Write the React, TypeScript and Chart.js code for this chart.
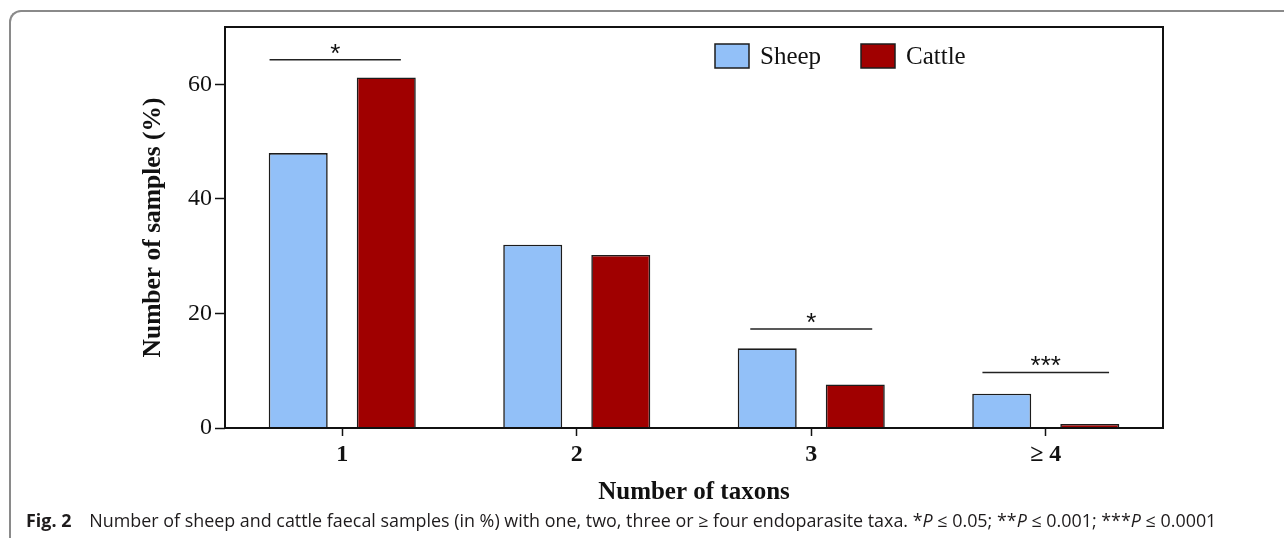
import React, { useEffect, useRef } from "react";
import { Chart, registerables } from "chart.js";

Chart.register(...registerables);

// Share of samples (%) by number of endoparasite taxa found
const categories = ["1", "2", "3", "≥ 4"];
const seriesLabels = ["Sheep", "Cattle"];
const sheepValues = [48.0, 32.0, 13.9, 6.0];
const cattleValues = [61.2, 30.2, 7.6, 0.7];
const yTickValues = [0, 20, 40, 60];
const yMax = 70;

// Significance bars: category index, height (%), reach left/right of the
// category centre (in category widths), and the star label.
const sigCategory = [0, 2, 3];
const sigLevel = [64.3, 17.3, 9.7];
const sigFrom = [-0.31, -0.26, -0.27];
const sigTo = [0.25, 0.26, 0.27];
const sigStars = ["*", "*", "***"];

const sheepColor = "#92c0f8";
const cattleColor = "#a00000";
const edgeColor = "#1c1c1c";

const serif = "'Liberation Serif', 'Times New Roman', serif";

const framePlugin = {
  id: "frame",
  afterDatasetsDraw(chart: any) {
    const { ctx, chartArea: a } = chart;
    ctx.save();
    ctx.strokeStyle = "#111";
    ctx.lineWidth = 2;
    ctx.strokeRect(a.left, a.top, a.right - a.left, a.bottom - a.top);
    ctx.restore();
  },
};

const significancePlugin = {
  id: "significance",
  afterDatasetsDraw(chart: any) {
    const { ctx } = chart;
    const x = chart.scales.x;
    const y = chart.scales.y;
    const step = x.getPixelForValue(1) - x.getPixelForValue(0);
    ctx.save();
    ctx.strokeStyle = "#222";
    ctx.lineWidth = 1.5;
    ctx.fillStyle = "#111";
    ctx.font = "26px 'Liberation Sans', Arial, sans-serif";
    ctx.textAlign = "center";
    ctx.textBaseline = "alphabetic";
    sigCategory.forEach((c, i) => {
      const cx = x.getPixelForValue(c);
      const py = y.getPixelForValue(sigLevel[i]);
      const x0 = cx + sigFrom[i] * step;
      const x1 = cx + sigTo[i] * step;
      ctx.beginPath();
      ctx.moveTo(x0, py);
      ctx.lineTo(x1, py);
      ctx.stroke();
      ctx.fillText(sigStars[i], (x0 + x1) / 2, py + 2);
    });
    ctx.restore();
  },
};

const boxLegendPlugin = {
  id: "boxLegend",
  afterDraw(chart: any) {
    const { ctx, chartArea: a } = chart;
    const boxW = 34;
    const boxH = 24;
    const cy = a.top + 29;
    let left = a.left + 490;
    ctx.save();
    ctx.font = `25px ${serif}`;
    ctx.textBaseline = "middle";
    ctx.textAlign = "left";
    chart.data.datasets.forEach((ds: any) => {
      ctx.fillStyle = ds.backgroundColor;
      ctx.fillRect(left, cy - boxH / 2, boxW, boxH);
      ctx.strokeStyle = edgeColor;
      ctx.lineWidth = 1.5;
      ctx.strokeRect(left, cy - boxH / 2, boxW, boxH);
      ctx.fillStyle = "#111";
      ctx.fillText(ds.label, left + boxW + 11, cy + 1);
      left += 146;
    });
    ctx.restore();
  },
};

export default function App() {
  const canvasRef = useRef<HTMLCanvasElement>(null);

  useEffect(() => {
    const canvas = canvasRef.current;
    if (!canvas) return;
    const chart = new Chart(canvas, {
      type: "bar",
      data: {
        labels: categories,
        datasets: [
          {
            label: seriesLabels[0],
            data: sheepValues,
            backgroundColor: sheepColor,
            borderColor: edgeColor,
            borderWidth: 1.6,
            categoryPercentage: 0.751,
            barPercentage: 0.67,
          },
          {
            label: seriesLabels[1],
            data: cattleValues,
            backgroundColor: cattleColor,
            borderColor: edgeColor,
            borderWidth: 1.6,
            categoryPercentage: 0.751,
            barPercentage: 0.67,
          },
        ],
      },
      options: {
        animation: false,
        responsive: true,
        maintainAspectRatio: false,
        layout: { padding: { top: 27, right: 121, left: 0, bottom: 0 } },
        plugins: {
          legend: { display: false },
          tooltip: { enabled: false },
        },
        scales: {
          x: {
            offset: true,
            border: { display: false },
            grid: {
              offset: false,
              display: true,
              drawOnChartArea: false,
              drawTicks: true,
              tickLength: 8,
              tickWidth: 1.5,
              color: "#111",
              tickColor: "#111",
            },
            ticks: {
              color: "#111",
              padding: 4,
              font: { family: serif, size: 24, weight: "bold" },
            },
            title: {
              display: true,
              text: "Number of taxons",
              color: "#111",
              font: { family: serif, size: 25, weight: "bold" },
              padding: { top: 0, bottom: 30 },
            },
            afterFit(scale: any) {
              scale.height = 110;
            },
          },
          y: {
            min: 0,
            max: yMax,
            border: { display: false },
            grid: {
              display: true,
              drawOnChartArea: false,
              drawTicks: true,
              tickLength: 10,
              tickWidth: 1.5,
              color: "#111",
              tickColor: "#111",
            },
            ticks: {
              color: "#111",
              padding: 3,
              font: { family: serif, size: 24 },
            },
            afterBuildTicks(scale: any) {
              scale.ticks = yTickValues.map((v) => ({ value: v }));
            },
            title: {
              display: true,
              text: "Number of samples (%)",
              color: "#111",
              font: { family: serif, size: 25.5, weight: "bold" },
              padding: { top: 138, bottom: 0 },
            },
            afterFit(scale: any) {
              scale.width = 225;
            },
          },
        },
      },
      plugins: [significancePlugin, framePlugin, boxLegendPlugin],
    } as any);
    return () => chart.destroy();
  }, []);

  return (
    <div
      style={{
        position: "fixed",
        left: 0,
        top: 0,
        width: 1284,
        height: 538,
        background: "#fff",
        overflow: "hidden",
      }}
    >
      <div
        style={{
          position: "absolute",
          left: 9,
          top: 10,
          width: 1400,
          height: 535,
          borderTop: "2px solid #8a8a8a",
          borderLeft: "2px solid #8a8a8a",
          borderBottom: "2px solid #8a8a8a",
          borderTopLeftRadius: 12,
          borderBottomLeftRadius: 12,
        }}
      />
      <div style={{ position: "absolute", left: 0, top: 0, width: 1284, height: 538 }}>
        <canvas ref={canvasRef} />
      </div>
      <div
        style={{
          position: "absolute",
          left: 26,
          top: 509,
          whiteSpace: "nowrap",
          fontFamily: "'Open Sans', sans-serif",
          fontSize: 17.9,
          lineHeight: "22px",
          color: "#1e1b1c",
        }}
      >
        <b>Fig. 2</b>
        {"\u2002\u2002Number of sheep and cattle faecal samples (in %) with one, two, three or ≥ four endoparasite taxa. *"}
        <i>P</i>
        {" ≤ 0.05; **"}
        <i>P</i>
        {" ≤ 0.001; ***"}
        <i>P</i>
        {" ≤ 0.0001"}
      </div>
    </div>
  );
}
